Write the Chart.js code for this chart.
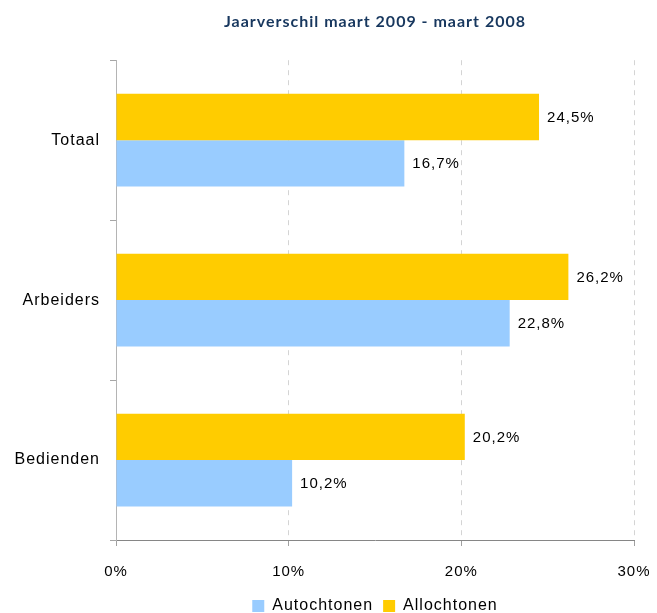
<!DOCTYPE html>
<html>
<head>
<meta charset="utf-8">
<script src="https://cdn.jsdelivr.net/npm/chart.js@4/dist/chart.umd.min.js"></script>
<style>
  html, body { margin: 0; padding: 0; background: #fff; }
  #wrap { width: 657px; height: 613px; }
</style>
</head>
<body>
<div id="wrap"><canvas id="chart"></canvas></div>
<script>
var categories = ['Totaal', 'Arbeiders', 'Bedienden'];
var allochtonen = [24.5, 26.2, 20.2];
var autochtonen = [16.7, 22.8, 10.2];
var tickValues = [0, 10, 20, 30];

// the original text is spaced out a little
function spaceOut(chart) {
    chart.ctx.letterSpacing = '1px';
}

// labels next to the bar ends, "24,5%"
var valueLabels = {
    id: 'valueLabels',
    afterDatasetsDraw: function(chart) {
        var ctx = chart.ctx;
        ctx.save();
        ctx.font = '15px "Liberation Sans", Arial, sans-serif';
        ctx.fillStyle = '#000';
        ctx.textBaseline = 'middle';
        ctx.textAlign = 'left';
        chart.data.datasets.forEach(function(ds, i) {
            chart.getDatasetMeta(i).data.forEach(function(bar, j) {
                var txt = ds.data[j].toFixed(1).replace('.', ',') + '%';
                ctx.fillText(txt, bar.x + 8, bar.y + 1);
            });
        });
        ctx.restore();
    }
};

// title and legend centered over the plot area, legend kept low
var centerOnPlot = {
    id: 'centerOnPlot',
    afterInit: function(chart) {
        var lg = chart.legend;
        var origFit = lg.fit;
        lg.fit = function() {
            origFit.call(this);
            this.height = 25;
        };
    },
    beforeLayout: spaceOut,
    beforeDraw: spaceOut,
    afterLayout: function(chart) {
        var a = chart.chartArea;
        [chart.titleBlock, chart.legend].forEach(function(b) {
            if (!b) return;
            b.left = a.left;
            b.right = a.right;
            b.width = a.right - a.left;
        });
    }
};

new Chart(document.getElementById('chart'), {
    type: 'bar',
    data: {
        labels: categories,
        datasets: [
            {
                label: 'Allochtonen',
                data: allochtonen,
                backgroundColor: '#ffcc00',
                categoryPercentage: 0.58,
                barPercentage: 1.0
            },
            {
                label: 'Autochtonen',
                data: autochtonen,
                backgroundColor: '#99ccff',
                categoryPercentage: 0.58,
                barPercentage: 1.0
            }
        ]
    },
    options: {
        indexAxis: 'y',
        responsive: true,
        maintainAspectRatio: false,
        animation: false,
        layout: { padding: { left: 0, right: 23, top: 0, bottom: 0 } },
        scales: {
            x: {
                min: 0,
                max: 30,
                afterBuildTicks: function(scale) {
                    scale.ticks = tickValues.map(function(v) { return { value: v }; });
                },
                afterFit: function(scale) {
                    scale.height = 48;
                    scale.paddingLeft = 0;
                    scale.paddingRight = 0;
                },
                ticks: {
                    color: '#000',
                    font: { family: '"Liberation Sans", Arial, sans-serif', size: 15 },
                    padding: 17,
                    callback: function(v) { return v + '%'; }
                },
                grid: {
                    color: '#d4d4d4',
                    tickColor: '#a0a0a0',
                    tickLength: 6,
                    lineWidth: 1
                },
                border: { color: '#868686', width: 1, dash: [5, 5] }
            },
            y: {
                afterFit: function(scale) { scale.width = 116; },
                ticks: {
                    color: '#000',
                    font: { family: '"Liberation Sans", Arial, sans-serif', size: 16 },
                    padding: 10
                },
                grid: {
                    offset: true,
                    drawOnChartArea: false,
                    color: '#a6a6a6',
                    tickLength: 6
                },
                border: { color: '#b4b4b4', width: 1 }
            }
        },
        plugins: {
            title: {
                display: true,
                text: 'Jaarverschil maart 2009 - maart 2008',
                color: '#17375e',
                font: { family: 'Lato, "Open Sans", sans-serif', size: 16, weight: 'bold' },
                padding: { top: 12, bottom: 29 }
            },
            legend: {
                position: 'bottom',
                reverse: true,
                labels: {
                    color: '#000',
                    font: { family: '"Liberation Sans", Arial, sans-serif', size: 16 },
                    boxWidth: 12,
                    boxHeight: 12,
                    padding: 10
                }
            },
            tooltip: { enabled: false }
        }
    },
    plugins: [valueLabels, centerOnPlot]
});
</script>
</body>
</html>
